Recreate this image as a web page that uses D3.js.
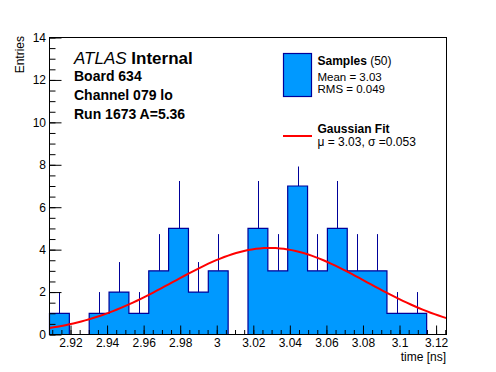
<!DOCTYPE html>
<html>
<head>
<meta charset="utf-8">
<script src="https://cdn.jsdelivr.net/npm/d3@7"></script>
<style>
  body { margin: 0; background: #fff; }
  svg { display: block; font-family: "Liberation Sans", Arial, sans-serif; }
</style>
</head>
<body>
<div id="chart"></div>
<script>
// histogram of sample times, 20 equal bins
const binCounts = [1, 0, 1, 2, 1, 3, 5, 2, 3, 0, 5, 3, 7, 3, 5, 3, 3, 1, 1, 0];
const xDomain = [2.9085, 3.1257];
const yDomain = [0, 14];
const xTicks = [2.92, 2.94, 2.96, 2.98, 3.00, 3.02, 3.04, 3.06, 3.08, 3.10, 3.12];
const xTickLabels = ["2.92", "2.94", "2.96", "2.98", "3", "3.02", "3.04", "3.06", "3.08", "3.1", "3.12"];
const yTicks = [0, 2, 4, 6, 8, 10, 12, 14];

// gaussian fit parameters
const fitAmp = 4.08, fitMean = 3.029, fitSigma = 0.053;

const infoLines = ["Board 634", "Channel 079 lo", "Run 1673 A=5.36"];
const sampleStats = ["Mean = 3.03", "RMS = 0.049"];

const W = 496, H = 372;
const fillColor = "#0099ff", edgeColor = "#000099";

const svg = d3.select("#chart").append("svg")
  .attr("width", W).attr("height", H);

const x = d3.scaleLinear().domain(xDomain).range([49.5, 446.5]);
const y = d3.scaleLinear().domain(yDomain).range([334.5, 37.5]);

const nb = binCounts.length;
const bw = (xDomain[1] - xDomain[0]) / nb;
const bins = binCounts.map((n, i) => ({ lo: xDomain[0] + i * bw, hi: xDomain[0] + (i + 1) * bw, n }));

// error bars (drawn first so the histogram covers the lower half)
svg.append("g")
  .selectAll("line")
  .data(bins.filter(b => b.n > 0))
  .join("line")
  .attr("x1", b => Math.round(x((b.lo + b.hi) / 2)) + 0.5)
  .attr("x2", b => Math.round(x((b.lo + b.hi) / 2)) + 0.5)
  .attr("y1", b => y(b.n))
  .attr("y2", b => y(b.n + Math.sqrt(b.n)))
  .attr("stroke", edgeColor)
  .attr("stroke-width", 1);

// histogram staircase
const pts = [[xDomain[0], 0]];
bins.forEach(b => { pts.push([b.lo, b.n]); pts.push([b.hi, b.n]); });
pts.push([xDomain[1], 0]);
const stair = d3.line().x(d => x(d[0])).y(d => y(d[1]));

svg.append("path")
  .attr("d", stair(pts) + "Z")
  .attr("fill", fillColor)
  .attr("stroke", edgeColor)
  .attr("stroke-width", 1.2);

// gaussian fit curve
const curvePts = d3.range(0, 101).map(i => {
  const xv = xDomain[0] + (xDomain[1] - xDomain[0]) * i / 100;
  return [xv, fitAmp * Math.exp(-0.5 * Math.pow((xv - fitMean) / fitSigma, 2))];
});
svg.append("path")
  .attr("d", d3.line().x(d => x(d[0])).y(d => y(d[1]))(curvePts))
  .attr("fill", "none")
  .attr("stroke", "#ff0000")
  .attr("stroke-width", 2);

// axes: ticks point inward
const xAxis = d3.axisBottom(x)
  .tickValues(xTicks).tickSize(-9).tickFormat((d, i) => xTickLabels[i]).tickPadding(4);
const xMinor = d3.axisBottom(x)
  .tickValues(d3.range(2.91, 3.126, 0.005)).tickSize(-4.5).tickFormat("");
const yAxis = d3.axisLeft(y)
  .tickValues(yTicks).tickSize(-12).tickPadding(3.5);
const yMinor = d3.axisLeft(y)
  .tickValues(d3.range(0, 14.01, 0.5)).tickSize(-6).tickFormat("");

function styleAxis(g) {
  g.select(".domain").remove();
  g.selectAll("line").attr("stroke", "#000");
  g.selectAll("text").attr("font-size", 12).attr("fill", "#000")
    .attr("font-family", "Liberation Sans, Arial, sans-serif");
}

svg.append("g").attr("transform", "translate(0,334.5)").call(xMinor).call(styleAxis);
svg.append("g").attr("transform", "translate(0,334.5)").call(xAxis).call(styleAxis);
svg.append("g").attr("transform", "translate(49.5,0)").call(yMinor).call(styleAxis);
svg.append("g").attr("transform", "translate(49.5,0)").call(yAxis).call(styleAxis);

// legend (white box covers what lies under it)
svg.append("rect")
  .attr("x", 276).attr("y", 44).attr("width", 162).attr("height", 122.5)
  .attr("fill", "#fff");

svg.append("rect")
  .attr("x", 283.5).attr("y", 53.5).attr("width", 28).attr("height", 43)
  .attr("fill", fillColor).attr("stroke", edgeColor).attr("stroke-width", 1.2);

const t1 = svg.append("text").attr("x", 317.5).attr("y", 65).attr("font-size", 12);
t1.append("tspan").attr("font-weight", "bold").text("Samples");
t1.append("tspan").text(" (50)");
svg.selectAll("text.stat")
  .data(sampleStats)
  .join("text")
  .attr("class", "stat")
  .attr("x", 317.5).attr("y", (d, i) => 80.5 + i * 12.2)
  .attr("font-size", 11.5).text(d => d);

svg.append("line")
  .attr("x1", 283).attr("x2", 312).attr("y1", 136).attr("y2", 136)
  .attr("stroke", "#ff0000").attr("stroke-width", 2);
svg.append("text").attr("x", 317.5).attr("y", 132.5)
  .attr("font-size", 12).attr("font-weight", "bold").text("Gaussian Fit");
svg.append("text").attr("x", 317.5).attr("y", 145.5)
  .attr("font-size", 12).text("\u03bc = 3.03, \u03c3 =0.053");

// frame
svg.append("rect")
  .attr("x", 49.5).attr("y", 37.5).attr("width", 397).attr("height", 297)
  .attr("fill", "none").attr("stroke", "#000").attr("stroke-width", 1);

// ATLAS label block
const atl = svg.append("text").attr("x", 74).attr("y", 63.5).attr("font-size", 17);
atl.append("tspan").attr("font-style", "italic").text("ATLAS");
atl.append("tspan").attr("font-weight", "bold").text(" Internal");

svg.selectAll("text.info")
  .data(infoLines)
  .join("text")
  .attr("class", "info")
  .attr("x", 74).attr("y", (d, i) => 80.5 + i * 19.2)
  .attr("font-size", 14).attr("font-weight", "bold").text(d => d);

// axis titles
svg.append("text")
  .attr("x", 446).attr("y", 361).attr("text-anchor", "end")
  .attr("font-size", 12).text("time [ns]");
svg.append("text")
  .attr("transform", "translate(23.5,36) rotate(-90)")
  .attr("text-anchor", "end")
  .attr("font-size", 12).text("Entries");
</script>
</body>
</html>
